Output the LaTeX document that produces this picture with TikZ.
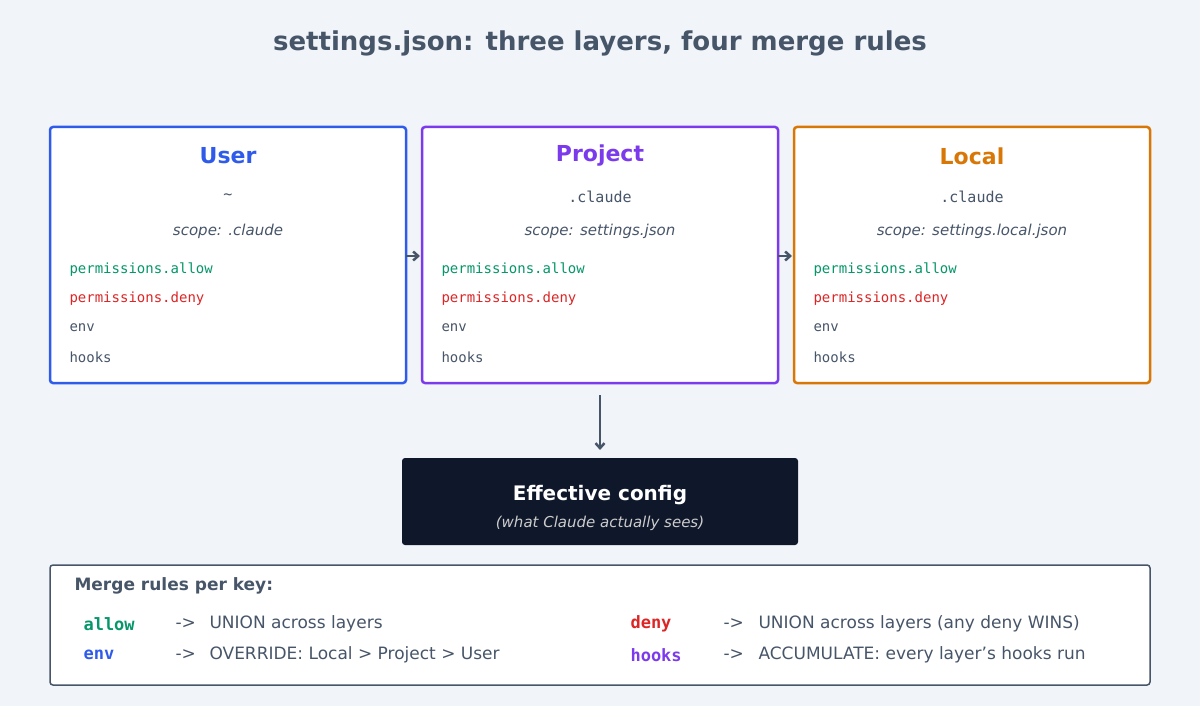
\documentclass[tikz,border=0pt]{standalone}
\usepackage{fontspec}
\setmainfont{DejaVu Sans}
\setmonofont{DejaVu Sans Mono}
\usetikzlibrary{arrows.meta}
\definecolor{bg}{HTML}{F1F5F9}
\definecolor{ink}{HTML}{475569}
\definecolor{cblue}{HTML}{2F5BEA}
\definecolor{cpurple}{HTML}{7C3AED}
\definecolor{corange}{HTML}{D97706}
\definecolor{cgreen}{HTML}{059669}
\definecolor{cred}{HTML}{DC2626}
\definecolor{dark}{HTML}{0F172A}
\definecolor{arr}{HTML}{475569}
\begin{document}
\begin{tikzpicture}[x=1pt,y=-1pt,
  layer/.style={draw=#1,line width=2.5pt,fill=white,rounded corners=3pt},
  ttl/.style={anchor=center,font=\fontsize{22}{24}\selectfont\bfseries},
  path/.style={anchor=center,text=ink,font=\ttfamily\fontsize{15}{17}\selectfont},
  scope/.style={anchor=center,text=ink,font=\itshape\fontsize{15}{17}\selectfont},
  key/.style={anchor=west,font=\ttfamily\fontsize{14}{16}\selectfont},
  rule/.style={anchor=west,text=ink,font=\fontsize{17}{19}\selectfont},
  rkey/.style={anchor=west,font=\ttfamily\bfseries\fontsize{17}{19}\selectfont},
  conn/.style={draw=arr,line width=2.5pt,-{Straight Barb[length=5pt,width=9pt]}}]
\fill[bg] (0,0) rectangle (1200,706);
\node[anchor=center,text=ink,font=\fontsize{26}{28}\selectfont\bfseries] (title) at (600,43) {settings.json: three layers, four merge rules};
\foreach \n/\x/\c/\t/\p/\s in {u/50/cblue/User/\textasciitilde/.claude/settings.json/all projects,
  p/422/cpurple/Project/.claude/settings.json/committed to git,
  l/794/corange/Local/.claude/settings.local.json/gitignored}{
  \draw[layer=\c] (\x,127) rectangle (\x+356,383);
  \node (\n b) at (\x+178,255) {};
  \node[ttl,text=\c] (\n t) at (\x+178,156) {\t};
  \node[path] (\n p) at (\x+178,197) {\p};
  \node[scope] (\n s) at (\x+178,231) {scope: \s};
  \node[key,text=cgreen] (\n a) at (\x+16,270) {permissions.allow};
  \node[key,text=cred] (\n d) at (\x+16,299) {permissions.deny};
  \node[key,text=ink] (\n e) at (\x+16,328) {env};
  \node[key,text=ink] (\n h) at (\x+16,357) {hooks};
}
\coordinate (a1) at (406,256); \coordinate (a2) at (420,256);
\coordinate (b1) at (778,256); \coordinate (b2) at (792,256);
\draw[conn] (a1) -- (a2);
\draw[conn] (b1) -- (b2);
\fill[dark,rounded corners=3pt] (402,458) rectangle (798,545);
\node[anchor=center,text=white,font=\fontsize{20}{22}\selectfont\bfseries] (eff) at (600,495) {Effective config};
\node[anchor=center,text=gray!40,font=\itshape\fontsize{15}{17}\selectfont] (effs) at (600,523) {(what Claude actually sees)};
\coordinate (d1) at (600,395); \coordinate (d2) at (600,450);
\draw[conn] (d1) -- (d2);
\draw[draw=ink,line width=1.5pt,fill=white,rounded corners=3pt] (50,565) rectangle (1150,685);
\node[anchor=west,text=ink,font=\fontsize{17}{19}\selectfont\bfseries] (mr) at (71,586) {Merge rules per key:};
\node[rkey,text=cgreen] at (80,624) {allow};
\node[rule] at (172,624) {->};
\node[rule] at (206,624) {UNION across layers};
\node[rkey,text=cblue] at (80,655) {env};
\node[rule] at (172,655) {->};
\node[rule] at (206,655) {OVERRIDE: Local > Project > User};
\node[rkey,text=cred] at (627,624) {deny};
\node[rule] at (720,624) {->};
\node[rule] at (755,624) {UNION across layers (any deny WINS)};
\node[rkey,text=cpurple] at (627,655) {hooks};
\node[rule] at (720,655) {->};
\node[rule] at (755,655) {ACCUMULATE: every layer's hooks run};
\end{tikzpicture}
\end{document}
